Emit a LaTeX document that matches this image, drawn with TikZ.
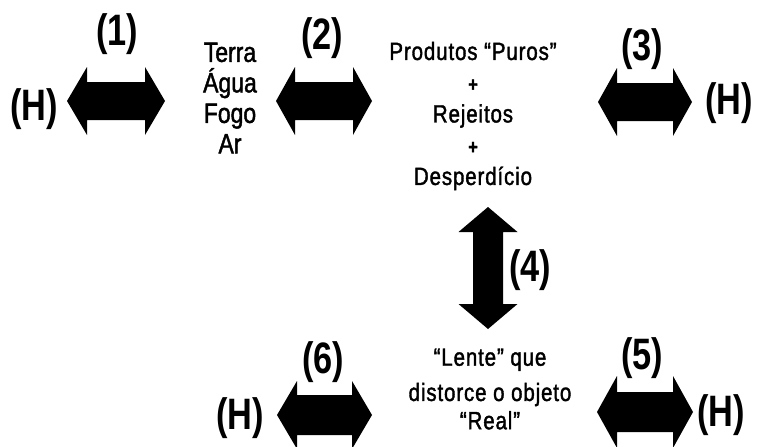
\documentclass[tikz,border=0pt]{standalone}
\usepackage{fontspec}
\setmainfont{Liberation Sans}
\newfontfamily\txtfont{Liberation Sans}[FakeStretch=0.82,LetterSpace=3.5,FakeBold=1.5]
\newfontfamily\elemfont{Liberation Sans}[FakeStretch=0.82,FakeBold=1.5]
\newfontfamily\narrowfont{Liberation Sans}[FakeStretch=0.78]
% horizontal double block arrow: cx, cy, half length, head length, head half-height, shaft half-height
\newcommand{\hblockarrow}[6]{%
  \fill[black] ({#1-#3},{#2}) -- ({#1-#3+#4},{#2-#5}) -- ({#1-#3+#4},{#2-#6})
    -- ({#1+#3-#4},{#2-#6}) -- ({#1+#3-#4},{#2-#5}) -- ({#1+#3},{#2})
    -- ({#1+#3-#4},{#2+#5}) -- ({#1+#3-#4},{#2+#6}) -- ({#1-#3+#4},{#2+#6})
    -- ({#1-#3+#4},{#2+#5}) -- cycle;}
% vertical double block arrow: cx, cy, half length, head length, head half-width, shaft half-width
\newcommand{\vblockarrow}[6]{%
  \fill[black] ({#1},{#2-#3}) -- ({#1+#5},{#2-#3+#4}) -- ({#1+#6},{#2-#3+#4})
    -- ({#1+#6},{#2+#3-#4}) -- ({#1+#5},{#2+#3-#4}) -- ({#1},{#2+#3})
    -- ({#1-#5},{#2+#3-#4}) -- ({#1-#6},{#2+#3-#4}) -- ({#1-#6},{#2-#3+#4})
    -- ({#1-#5},{#2-#3+#4}) -- cycle;}
\newcommand{\plussign}{{\fontsize{20}{31.25}\selectfont\bfseries +}}
\tikzset{
  lbl/.style={inner sep=0pt, font=\narrowfont\bfseries\fontsize{44}{44}\selectfont},
  txt/.style={inner sep=0pt, align=center, font=\txtfont\fontsize{25}{31.25}\selectfont},
  elem/.style={inner sep=0pt, align=center, font=\elemfont\fontsize{28}{30.5}\selectfont},
}
\begin{document}
\begin{tikzpicture}[x=1pt,y=-1pt]
\useasboundingbox (0,0) rectangle (758,447);
\clip (0,0) rectangle (758,447);

% text blocks
\node[elem] (terra) at (230,98) {Terra\\Água\\Fogo\\Ar};
\node[txt] (produtos) at (473,116) {Produtos “Puros”\\\plussign\\Rejeitos\\\plussign\\Desperdício};
\node[txt] (lente) at (490,389) {“Lente” que\\[4pt]distorce o objeto\\[-3pt]“Real”};

% labels
\node[lbl] (l1) at (117,34) {(1)};
\node[lbl] (l2) at (322,38) {(2)};
\node[lbl] (l3) at (642,49) {(3)};
\node[lbl] (l4) at (530,270) {(4)};
\node[lbl] (l5) at (642,358) {(5)};
\node[lbl] (l6) at (323,362) {(6)};
\node[lbl] (h1) at (34,109) {(H)};
\node[lbl] (h2) at (729,103) {(H)};
\node[lbl] (h3) at (240,418) {(H)};
\node[lbl] (h4) at (721,415) {(H)};

% block arrows
\hblockarrow{116}{101}{49}{20}{34}{19}
\hblockarrow{324}{101}{48}{19}{34}{19}
\hblockarrow{645}{102}{47}{19}{34}{19}
\vblockarrow{488}{268}{61}{25}{29.5}{15}
\hblockarrow{324.5}{415}{47.5}{20}{34}{20}
\hblockarrow{645}{412}{48}{20}{36}{20}
\end{tikzpicture}
\end{document}
